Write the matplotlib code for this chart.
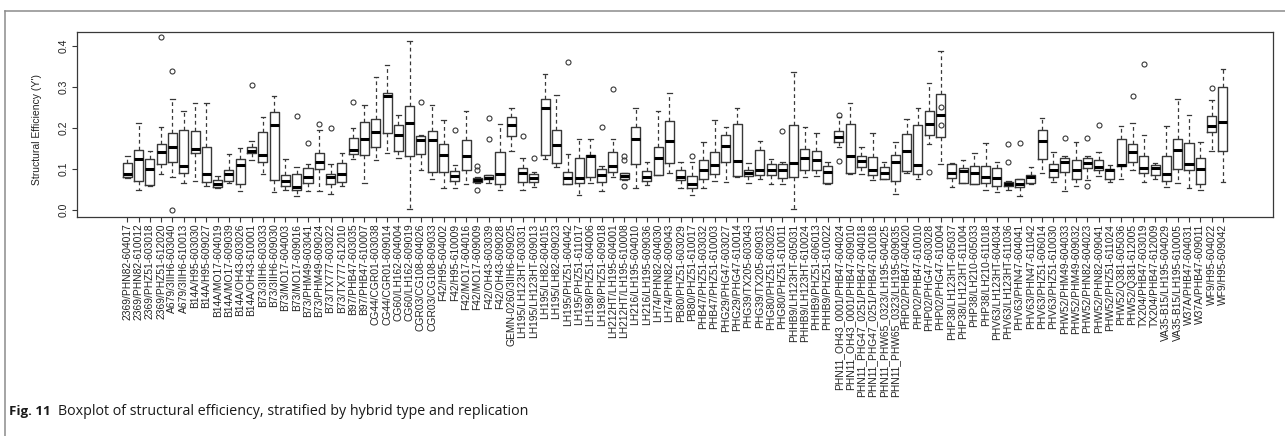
import matplotlib.pyplot as plt
from matplotlib.lines import Line2D

# hybrid / replication labels, left to right
labels = [
    '2369/PHN82-604017', '2369/PHN82-610012', '2369/PHZ51-603018', '2369/PHZ51-612020',
    'A679/3IIH6-603040', 'A679/3IIH6-610013', 'B14A/H95-603030', 'B14A/H95-609027',
    'B14A/MO17-604019', 'B14A/MO17-609039', 'B14A/OH43-603026', 'B14A/OH43-610001',
    'B73/3IIH6-603033', 'B73/3IIH6-609030', 'B73/MO17-604003', 'B73/MO17-609016',
    'B73/PHM49-603041', 'B73/PHM49-609024', 'B73/TX777-603022', 'B73/TX777-612010',
    'B97/PHB47-603035', 'B97/PHB47-610007', 'CG44/CGR01-603038', 'CG44/CGR01-609014',
    'CG60/LH162-604004', 'CG60/LH162-609019', 'CGR03/CG108-604026', 'CGR03/CG108-609033',
    'F42/H95-604002', 'F42/H95-610009', 'F42/MO17-604016', 'F42/MO17-609009',
    'F42/OH43-603039', 'F42/OH43-609028', 'GEMN-0260/3IIH6-609025', 'LH195/LH123HT-603031',
    'LH195/LH123HT-609013', 'LH195/LH82-604015', 'LH195/LH82-609023', 'LH195/PHZ51-604042',
    'LH195/PHZ51-611017', 'LH198/PHZ51-604006', 'LH198/PHZ51-609018', 'LH212HT/LH195-604001',
    'LH212HT/LH195-610008', 'LH216/LH195-604010', 'LH216/LH195-609036', 'LH74/PHN82-604030',
    'LH74/PHN82-609043', 'PB80/PHZ51-603029', 'PB80/PHZ51-610017', 'PHB47/PHZ51-603032',
    'PHB47/PHZ51-610003', 'PHG29/PHG47-603027', 'PHG29/PHG47-610014', 'PHG39/TX205-603043',
    'PHG39/TX205-609031', 'PHG80/PHZ51-603025', 'PHG80/PHZ51-610011', 'PHHB9/LH123HT-605031',
    'PHHB9/LH123HT-610024', 'PHHB9/PHZ51-606013', 'PHHB9/PHZ51-610022',
    'PHN11_OH43_0001/PHB47-604024', 'PHN11_OH43_0001/PHB47-609010',
    'PHN11_PHG47_0251/PHB47-604018', 'PHN11_PHG47_0251/PHB47-610018',
    'PHN11_PHW65_0323/LH195-604025', 'PHN11_PHW65_0323/LH195-609035',
    'PHP02/PHB47-604020', 'PHP02/PHB47-610010', 'PHP02/PHG47-603028', 'PHP02/PHG47-610004',
    'PHP38/LH123HT-605037', 'PHP38/LH123HT-611004', 'PHP38/LH210-605033', 'PHP38/LH210-611018',
    'PHV63/LH123HT-604034', 'PHV63/LH123HT-611036', 'PHV63/PHN47-604041', 'PHV63/PHN47-611042',
    'PHV63/PHZ51-606014', 'PHV63/PHZ51-610030', 'PHW52/PHM49-604033', 'PHW52/PHM49-609032',
    'PHW52/PHN82-604023', 'PHW52/PHN82-609041', 'PHW52/PHZ51-611024', 'PHW52/Q381-605036',
    'PHW52/Q381-612005', 'TX204/PHB47-603019', 'TX204/PHB47-612009', 'VA35-B15/LH195-604029',
    'VA35-B15/LH195-610005', 'W37A/PHB47-604031', 'W37A/PHB47-609011', 'WF9/H95-604022',
    'WF9/H95-609042',
]

# five-number summaries
whis_lo = [0.078, 0.048, 0.059, 0.087, 0.079, 0.066, 0.071, 0.059, 0.053, 0.065,
           0.045, 0.122, 0.087, 0.044, 0.049, 0.033, 0.045, 0.047, 0.038, 0.057,
           0.125, 0.065, 0.121, 0.138, 0.126, 0.001, 0.096, 0.074, 0.054, 0.052,
           0.062, 0.065, 0.066, 0.049, 0.144, 0.049, 0.056, 0.125, 0.104, 0.062,
           0.036, 0.066, 0.045, 0.079, 0.072, 0.053, 0.060, 0.084, 0.090, 0.052,
           0.036, 0.052, 0.070, 0.069, 0.079, 0.066, 0.076, 0.063, 0.064, 0.001,
           0.079, 0.082, 0.062, 0.154, 0.088, 0.087, 0.072, 0.074, 0.038, 0.090,
           0.075, 0.160, 0.111, 0.055, 0.065, 0.062, 0.048, 0.044, 0.048, 0.033,
           0.064, 0.089, 0.068, 0.045, 0.057, 0.072, 0.082, 0.067, 0.074, 0.096,
           0.069, 0.074, 0.056, 0.065, 0.053, 0.049, 0.143, 0.069]
q1 = [0.080, 0.071, 0.061, 0.112, 0.117, 0.089, 0.139, 0.067, 0.056, 0.070,
      0.064, 0.138, 0.116, 0.073, 0.058, 0.048, 0.065, 0.100, 0.062, 0.068,
      0.136, 0.134, 0.153, 0.187, 0.143, 0.131, 0.136, 0.092, 0.092, 0.071,
      0.098, 0.067, 0.074, 0.063, 0.181, 0.069, 0.069, 0.134, 0.113, 0.063,
      0.065, 0.081, 0.067, 0.091, 0.076, 0.112, 0.070, 0.086, 0.113, 0.073,
      0.053, 0.076, 0.087, 0.117, 0.083, 0.083, 0.085, 0.085, 0.078, 0.080,
      0.098, 0.097, 0.065, 0.166, 0.090, 0.105, 0.084, 0.075, 0.070, 0.094,
      0.087, 0.182, 0.177, 0.078, 0.066, 0.064, 0.066, 0.059, 0.058, 0.055,
      0.066, 0.125, 0.081, 0.093, 0.075, 0.103, 0.097, 0.075, 0.108, 0.116,
      0.090, 0.084, 0.071, 0.100, 0.096, 0.062, 0.190, 0.143]
med = [0.088, 0.124, 0.100, 0.141, 0.154, 0.108, 0.147, 0.088, 0.062, 0.087,
       0.109, 0.144, 0.134, 0.207, 0.070, 0.056, 0.079, 0.116, 0.079, 0.087,
       0.145, 0.173, 0.190, 0.278, 0.183, 0.211, 0.171, 0.169, 0.133, 0.082,
       0.131, 0.073, 0.078, 0.087, 0.207, 0.090, 0.078, 0.247, 0.159, 0.078,
       0.078, 0.130, 0.086, 0.107, 0.082, 0.172, 0.080, 0.126, 0.168, 0.079,
       0.063, 0.098, 0.109, 0.156, 0.120, 0.090, 0.097, 0.097, 0.098, 0.113,
       0.126, 0.121, 0.092, 0.177, 0.130, 0.120, 0.096, 0.090, 0.117, 0.143,
       0.109, 0.210, 0.232, 0.090, 0.094, 0.090, 0.080, 0.078, 0.063, 0.064,
       0.079, 0.168, 0.097, 0.117, 0.097, 0.115, 0.104, 0.097, 0.109, 0.140,
       0.101, 0.102, 0.088, 0.146, 0.112, 0.100, 0.204, 0.213]
q3 = [0.115, 0.145, 0.125, 0.160, 0.186, 0.194, 0.191, 0.153, 0.073, 0.098,
      0.124, 0.154, 0.190, 0.238, 0.085, 0.087, 0.102, 0.138, 0.087, 0.114,
      0.176, 0.213, 0.222, 0.285, 0.206, 0.252, 0.181, 0.191, 0.161, 0.094,
      0.170, 0.077, 0.084, 0.140, 0.225, 0.102, 0.087, 0.270, 0.194, 0.093,
      0.126, 0.134, 0.099, 0.140, 0.089, 0.201, 0.095, 0.153, 0.217, 0.097,
      0.082, 0.122, 0.142, 0.183, 0.209, 0.096, 0.145, 0.111, 0.111, 0.207,
      0.147, 0.143, 0.108, 0.192, 0.209, 0.130, 0.129, 0.105, 0.134, 0.185,
      0.207, 0.240, 0.283, 0.112, 0.101, 0.106, 0.106, 0.103, 0.067, 0.074,
      0.085, 0.194, 0.112, 0.127, 0.122, 0.127, 0.121, 0.100, 0.172, 0.160,
      0.131, 0.109, 0.132, 0.173, 0.164, 0.127, 0.229, 0.299]
whis_hi = [0.130, 0.211, 0.143, 0.203, 0.271, 0.240, 0.260, 0.260, 0.082, 0.136,
           0.151, 0.167, 0.226, 0.278, 0.124, 0.104, 0.112, 0.194, 0.112, 0.139,
           0.200, 0.255, 0.323, 0.352, 0.230, 0.411, 0.183, 0.256, 0.219, 0.109,
           0.240, 0.079, 0.086, 0.208, 0.248, 0.126, 0.091, 0.330, 0.280, 0.136,
           0.173, 0.172, 0.106, 0.173, 0.090, 0.249, 0.116, 0.241, 0.284, 0.117,
           0.117, 0.165, 0.218, 0.203, 0.248, 0.113, 0.167, 0.125, 0.116, 0.337,
           0.203, 0.186, 0.117, 0.226, 0.260, 0.152, 0.186, 0.117, 0.166, 0.222,
           0.249, 0.310, 0.386, 0.113, 0.121, 0.139, 0.164, 0.116, 0.070, 0.075,
           0.104, 0.224, 0.140, 0.132, 0.165, 0.132, 0.142, 0.109, 0.204, 0.211,
           0.183, 0.114, 0.204, 0.270, 0.232, 0.165, 0.268, 0.343]

# outlying points, keyed by box number (1-based)
outliers = {
    4: [0.420], 5: [0.339, 0.0], 12: [0.303], 16: [0.228], 17: [0.163],
    18: [0.209], 19: [0.200], 21: [0.263], 27: [0.262], 30: [0.194],
    32: [0.106, 0.096, 0.049], 33: [0.224, 0.172], 36: [0.180], 37: [0.126],
    40: [0.359], 43: [0.203], 44: [0.294], 45: [0.130, 0.122, 0.057],
    51: [0.131], 59: [0.191], 64: [0.232, 0.118], 72: [0.091],
    73: [0.251, 0.207], 79: [0.161, 0.117], 80: [0.163], 84: [0.176],
    86: [0.175, 0.057], 87: [0.207], 90: [0.278], 91: [0.356], 97: [0.296],
}

plt.rcParams['font.family'] = ['Liberation Sans', 'DejaVu Sans']

n = len(labels)
stats = []
for i in range(n):
    stats.append(dict(whislo=whis_lo[i], q1=q1[i], med=med[i], q3=q3[i],
                      whishi=whis_hi[i], fliers=outliers.get(i + 1, [])))

fig = plt.figure(figsize=(12.85, 4.36), dpi=100)
ax = fig.add_axes([0.0602, 0.503, 0.9303, 0.4243])

edge = '#383838'
ax.bxp(stats, positions=range(1, n + 1), widths=0.8,
       boxprops=dict(color=edge, linewidth=1.0),
       medianprops=dict(color='black', linewidth=2.2, solid_capstyle='butt'),
       whiskerprops=dict(color=edge, linewidth=0.9, linestyle=(0, (3, 2.5))),
       capprops=dict(color=edge, linewidth=0.9),
       capwidths=0.4,
       flierprops=dict(marker='o', markersize=3.6, markerfacecolor='none',
                       markeredgecolor=edge, markeredgewidth=0.8, linestyle='none'))

ax.set_xlim(-3.42, 102.42)
ax.set_ylim(-0.0167, 0.434)
ax.set_xticks(range(1, n + 1))
ax.set_xticklabels(labels, rotation=90, fontsize=7.4, color='#222222')
ax.set_yticks([0.0, 0.1, 0.2, 0.3, 0.4])
ax.set_yticklabels(['0.0', '0.1', '0.2', '0.3', '0.4'], rotation=90,
                   va='center', fontsize=7.5, color='#222222')
ax.tick_params(axis='x', length=3.5, width=0.8, pad=1.5, color=edge)
ax.tick_params(axis='y', length=3.5, width=0.8, pad=3, color=edge)
ax.set_ylabel("Structural Efficiency (Y')", fontsize=7.5, color='#222222')
ax.yaxis.set_label_coords(-0.0295, 0.47)
for s in ax.spines.values():
    s.set_color(edge)
    s.set_linewidth(0.9)

# page frame around the figure
fig.add_artist(Line2D([5 / 1285, 1], [1 - 11 / 436, 1 - 11 / 436],
                      color='#8c8c8c', linewidth=1.1))
fig.add_artist(Line2D([5 / 1285, 5 / 1285], [0, 1 - 11 / 436],
                      color='#8c8c8c', linewidth=1.1))

# caption
cap_font = ['Open Sans', 'DejaVu Sans']
fig.text(9 / 1285, 1 - 411 / 436, 'Fig. 11', fontsize=9.5, fontweight='bold',
         family=cap_font, va='center', ha='left', color='#1a1a1a')
fig.text(58 / 1285, 1 - 411 / 436,
         'Boxplot of structural efficiency, stratified by hybrid type and replication',
         fontsize=10.3, family=cap_font, va='center', ha='left', color='#1a1a1a')

fig.savefig('out.png', dpi=100)
